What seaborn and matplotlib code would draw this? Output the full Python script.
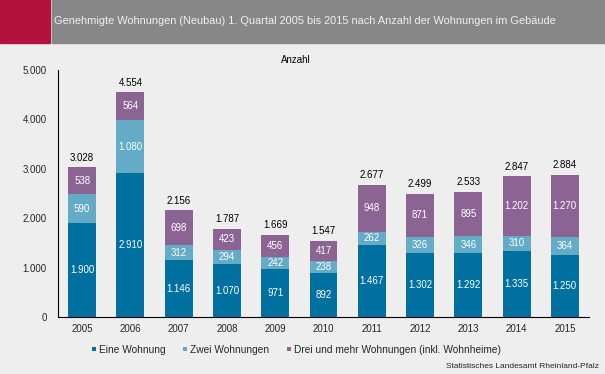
import matplotlib
matplotlib.use("Agg")
import matplotlib.pyplot as plt
import seaborn as sns
import numpy as np
import pandas as pd
from matplotlib.patches import Rectangle
from matplotlib.lines import Line2D

years = ["2005", "2006", "2007", "2008", "2009", "2010", "2011", "2012", "2013", "2014", "2015"]
eine = [1900, 2910, 1146, 1070, 971, 892, 1467, 1302, 1292, 1335, 1250]
zwei = [590, 1080, 312, 294, 242, 238, 262, 326, 346, 310, 364]
drei = [538, 564, 698, 423, 456, 417, 948, 871, 895, 1202, 1270]
series_names = ["Eine Wohnung", "Zwei Wohnungen", "Drei und mehr Wohnungen (inkl. Wohnheime)"]
y_ticks = [0, 1000, 2000, 3000, 4000, 5000]

c1, c2, c3 = "#0070a0", "#64abc8", "#8c6494"
bg = "#edeeed"

sns.set_theme(style="white")
plt.rcParams["font.family"] = ["Liberation Sans", "DejaVu Sans"]

def fmt(v):
    return f"{v:,}".replace(",", ".")

df = pd.DataFrame({"year": years, "eine": eine, "zwei": zwei, "drei": drei})
df["s1"] = df["eine"]
df["s2"] = df["eine"] + df["zwei"]
df["s3"] = df["s2"] + df["drei"]

fig = plt.figure(figsize=(6.05, 3.74), dpi=100, facecolor=bg)
ax = fig.add_axes([58/605, 1-317/374, (589-58)/605, (317-70)/374])
ax.set_facecolor(bg)

w = 0.58
sns.barplot(data=df, x="year", y="s3", color=c3, width=w, saturation=1, ax=ax, linewidth=0)
sns.barplot(data=df, x="year", y="s2", color=c2, width=w, saturation=1, ax=ax, linewidth=0)
sns.barplot(data=df, x="year", y="s1", color=c1, width=w, saturation=1, ax=ax, linewidth=0)

for i in range(len(years)):
    ax.text(i, df["s1"][i] / 2, fmt(eine[i]), ha="center", va="center", color="white", fontsize=7)
    ax.text(i, df["s1"][i] + zwei[i] / 2, fmt(zwei[i]), ha="center", va="center", color="white", fontsize=7)
    ax.text(i, df["s2"][i] + drei[i] / 2, fmt(drei[i]), ha="center", va="center", color="white", fontsize=7)
    ax.text(i, df["s3"][i] + 90, fmt(int(df["s3"][i])), ha="center", va="bottom", color="black", fontsize=7)

ax.set_xlim(-0.5, len(years) - 0.5)
ax.set_ylim(0, 5000)
ax.set_yticks(y_ticks)
ax.set_yticklabels([fmt(v) for v in y_ticks], fontsize=7)
ax.set_xticks(range(len(years)))
ax.set_xticklabels(years, fontsize=7)
ax.set_xticks(np.arange(-0.5, len(years)), minor=True)
ax.tick_params(axis="x", which="major", length=0, pad=5)
ax.tick_params(axis="x", which="minor", length=4, width=0.8, color="black", direction="out")
ax.tick_params(axis="y", which="major", length=4, width=0.8, color="black", direction="out", pad=4)
ax.set_xlabel("")
ax.set_ylabel("")
for s in ["top", "right"]:
    ax.spines[s].set_visible(False)
for s in ["left", "bottom"]:
    ax.spines[s].set_color("black")
    ax.spines[s].set_linewidth(0.8)

# banner
fig.patches.append(Rectangle((0, 1 - 43/374), 50/605, 43/374, transform=fig.transFigure, color="#b3123e", zorder=0))
fig.patches.append(Rectangle((52/605, 1 - 43/374), 1 - 52/605, 43/374, transform=fig.transFigure, color="#878787", zorder=0))
fig.text(54/605, 1 - 21/374, "Genehmigte Wohnungen (Neubau) 1. Quartal 2005 bis 2015 nach Anzahl der Wohnungen im Gebäude",
         color="#f0f0f0", fontsize=7.9, va="center", ha="left")

fig.text(296/605, 1 - 60/374, "Anzahl", fontsize=7, ha="center", va="center", color="black")

handles = [Line2D([0], [0], marker="s", linestyle="", markersize=3.2, markerfacecolor=c, markeredgewidth=0)
           for c in (c1, c2, c3)]
fig.legend(handles, series_names, loc="center", bbox_to_anchor=(296/605, 1 - 350/374), ncol=3, frameon=False,
           fontsize=7.3, handletextpad=0.25, columnspacing=1.65, handlelength=0.5)

fig.text(599/605, 1 - 366/374, "Statistisches Landesamt Rheinland-Pfalz", fontsize=6.0, ha="right", va="center")

fig.savefig("out.png", dpi=100, facecolor=bg)
